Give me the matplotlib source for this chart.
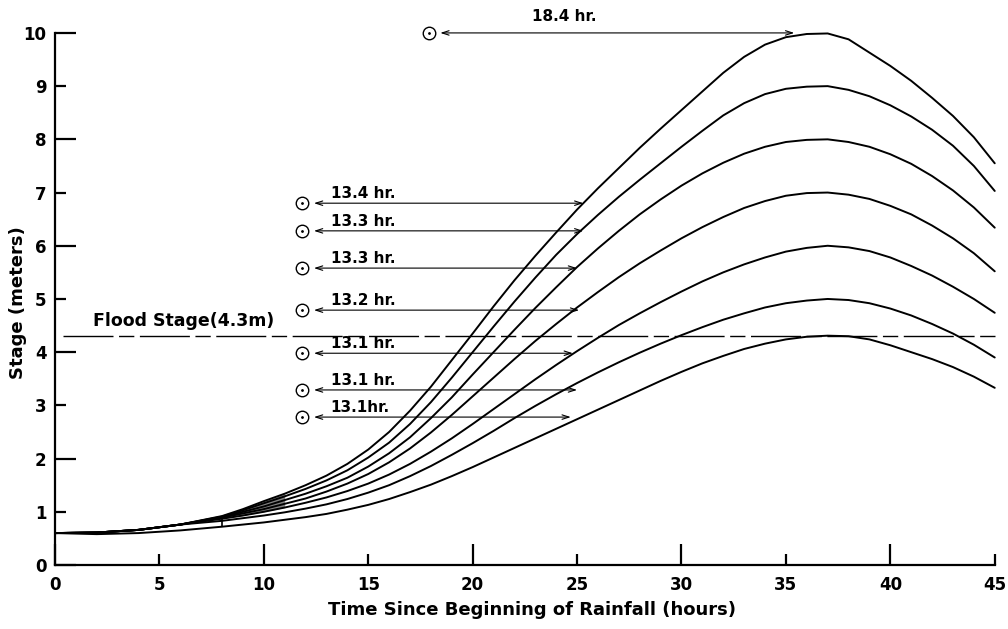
import matplotlib
matplotlib.use("Agg")
import matplotlib.pyplot as plt

# hours since beginning of rainfall
hours = [0, 2, 4, 6, 8, 9, 10, 11, 12, 13, 14, 15, 16, 17, 18, 19, 20, 21, 22, 23, 24, 25, 26,
         27, 28, 29, 30, 31, 32, 33, 34, 35, 36, 37, 38, 39, 40, 41, 42, 43, 44, 45]

# stage (m) for each simulated hydrograph, peaks 10 .. 4.3 m
stage_10 = [0.60, 0.61, 0.66, 0.76, 0.92, 1.05, 1.20, 1.34, 1.50, 1.68, 1.90, 2.17, 2.50, 2.90, 3.35,
            3.85, 4.35, 4.86, 5.35, 5.81, 6.25, 6.68, 7.08, 7.46, 7.84, 8.20, 8.55, 8.90, 9.25, 9.55,
            9.78, 9.92, 9.98, 9.99, 9.88, 9.63, 9.38, 9.10, 8.78, 8.44, 8.04, 7.55]
stage_9 = [0.60, 0.61, 0.66, 0.76, 0.91, 1.03, 1.16, 1.29, 1.43, 1.59, 1.78, 2.02, 2.30, 2.65, 3.06,
           3.52, 4.00, 4.48, 4.95, 5.40, 5.83, 6.22, 6.58, 6.92, 7.24, 7.55, 7.86, 8.16, 8.45, 8.68,
           8.85, 8.95, 8.99, 9.00, 8.93, 8.81, 8.64, 8.43, 8.18, 7.88, 7.50, 7.03]
stage_8 = [0.60, 0.61, 0.66, 0.76, 0.90, 1.00, 1.10, 1.22, 1.34, 1.48, 1.64, 1.85, 2.10, 2.40, 2.76,
           3.15, 3.58, 4.00, 4.42, 4.83, 5.22, 5.60, 5.95, 6.28, 6.59, 6.87, 7.13, 7.36, 7.56, 7.73,
           7.86, 7.95, 7.99, 8.00, 7.95, 7.86, 7.72, 7.54, 7.31, 7.04, 6.72, 6.34]
stage_7 = [0.60, 0.61, 0.66, 0.76, 0.89, 0.97, 1.05, 1.15, 1.25, 1.38, 1.53, 1.71, 1.93, 2.19, 2.49,
           2.82, 3.17, 3.52, 3.87, 4.21, 4.53, 4.84, 5.13, 5.41, 5.67, 5.91, 6.14, 6.35, 6.54, 6.71,
           6.84, 6.94, 6.99, 7.00, 6.96, 6.88, 6.75, 6.59, 6.38, 6.14, 5.86, 5.52]
stage_6 = [0.60, 0.61, 0.66, 0.76, 0.87, 0.93, 1.00, 1.08, 1.17, 1.27, 1.39, 1.53, 1.70, 1.90, 2.13,
           2.38, 2.65, 2.93, 3.21, 3.49, 3.76, 4.02, 4.27, 4.51, 4.73, 4.94, 5.14, 5.33, 5.50, 5.65,
           5.78, 5.89, 5.96, 6.00, 5.97, 5.90, 5.78, 5.62, 5.44, 5.23, 5.00, 4.74]
stage_5 = [0.60, 0.61, 0.66, 0.76, 0.83, 0.88, 0.93, 0.99, 1.06, 1.14, 1.24, 1.36, 1.50, 1.67, 1.86,
           2.07, 2.29, 2.52, 2.76, 2.99, 3.21, 3.42, 3.62, 3.81, 3.99, 4.16, 4.32, 4.47, 4.61, 4.73,
           4.84, 4.92, 4.97, 5.00, 4.98, 4.92, 4.82, 4.69, 4.53, 4.35, 4.14, 3.90]
stage_43 = [0.60, 0.58, 0.60, 0.65, 0.72, 0.76, 0.80, 0.85, 0.90, 0.96, 1.04, 1.13, 1.24, 1.37, 1.51,
            1.67, 1.84, 2.02, 2.20, 2.38, 2.56, 2.74, 2.92, 3.10, 3.28, 3.46, 3.63, 3.79, 3.93, 4.06,
            4.16, 4.24, 4.29, 4.31, 4.30, 4.24, 4.13, 4.00, 3.87, 3.72, 3.54, 3.33]
curves = [stage_10, stage_9, stage_8, stage_7, stage_6, stage_5, stage_43]

flood_stage = 4.3

# lag arrows: circle -> point on the rising limb
lag_y = [6.80, 6.28, 5.58, 4.79, 3.98, 3.29, 2.78]
lag_end = [25.3, 25.3, 25.0, 25.1, 24.8, 25.0, 24.7]
lag_text = ["13.4 hr.", "13.3 hr.", "13.3 hr.", "13.2 hr.", "13.1 hr.", "13.1 hr.", "13.1hr."]
lag_start = 11.85

peak_lag_start = 17.9
peak_lag_end = 35.4
peak_lag_y = 10.0
peak_lag_text = "18.4 hr."

fig = plt.figure(figsize=(10.08, 6.29), dpi=100)
ax = fig.add_axes([55 / 1008, 64 / 629, 946 / 1008, 564 / 629])
ax.set_xlim(0, 45.3)
ax.set_ylim(0, 10.6)

for c in curves:
    ax.plot(hours, c, color="black", lw=1.4, solid_capstyle="round")

# vertical step at 8 hr and stippled bundle where the curves fan out
ax.vlines(hours[4], stage_43[4], stage_10[4], color="black", lw=1.2)
ax.fill_between(hours[4:8], stage_6[4:8], stage_10[4:8], color="0.3", alpha=0.7, lw=0)

# flood stage
ax.plot([0.4, 45], [flood_stage, flood_stage], color="black", lw=1.0, dashes=(36, 4, 11, 4))
ax.text(1.8, flood_stage + 0.12, "Flood Stage(4.3m)", fontsize=12.5, fontweight="bold",
        ha="left", va="bottom")

arrow_kw = dict(arrowstyle="<->,head_length=0.5,head_width=0.16", lw=0.8, color="black",
                shrinkA=0, shrinkB=0)
for y, xe, t in zip(lag_y, lag_end, lag_text):
    ax.plot(lag_start, y, "o", ms=9, mfc="white", mec="black", mew=1.0)
    ax.plot(lag_start, y, ".", ms=2, color="black")
    ax.annotate("", xy=(xe, y), xytext=(lag_start + 0.55, y), arrowprops=arrow_kw)
    ax.text(lag_start + 1.35, y + 0.04, t, fontsize=11, fontweight="bold",
            ha="left", va="bottom")

ax.plot(peak_lag_start, peak_lag_y, "o", ms=9, mfc="white", mec="black", mew=1.0)
ax.plot(peak_lag_start, peak_lag_y, ".", ms=2, color="black")
ax.annotate("", xy=(peak_lag_end, peak_lag_y), xytext=(peak_lag_start + 0.55, peak_lag_y),
            arrowprops=arrow_kw)
ax.text(24.4, peak_lag_y + 0.17, peak_lag_text, fontsize=11, fontweight="bold",
        ha="center", va="bottom")

# axes styling
for s in ["top", "right"]:
    ax.spines[s].set_visible(False)
ax.spines["left"].set_bounds(0, 10)
ax.spines["bottom"].set_bounds(0, 45)
ax.spines["left"].set_linewidth(1.6)
ax.spines["bottom"].set_linewidth(1.6)

ax.set_xticks([0, 10, 20, 30, 40])
ax.set_xticks([5, 15, 25, 35, 45], minor=True)
ax.set_xticklabels(["0", "10", "20", "30", "40"])
ax.set_xticklabels(["5", "15", "25", "35", "45"], minor=True)
ax.set_yticks([0, 2, 4, 6, 8, 10])
ax.set_yticks([1, 3, 5, 7, 9], minor=True)
ax.set_yticklabels(["0", "2", "4", "6", "8", "10"])
ax.set_yticklabels(["1", "3", "5", "7", "9"], minor=True)
ax.tick_params(which="major", direction="in", length=15, width=1.6, labelsize=12)
ax.tick_params(which="minor", direction="in", length=8, width=1.6, labelsize=12)
ax.tick_params(axis="x", which="both", pad=8)
ax.tick_params(axis="y", which="both", pad=6)
for lbl in ax.get_xticklabels(which="both") + ax.get_yticklabels(which="both"):
    lbl.set_fontweight("bold")

fig.text(532 / 1008, 1 - 610 / 629, "Time Since Beginning of Rainfall (hours)",
         fontsize=13, fontweight="bold", ha="center", va="center")
fig.text(18 / 1008, 1 - 303 / 629, "Stage (meters)", fontsize=13, fontweight="bold",
         rotation=90, ha="center", va="center")

fig.savefig("out.png", dpi=100)
